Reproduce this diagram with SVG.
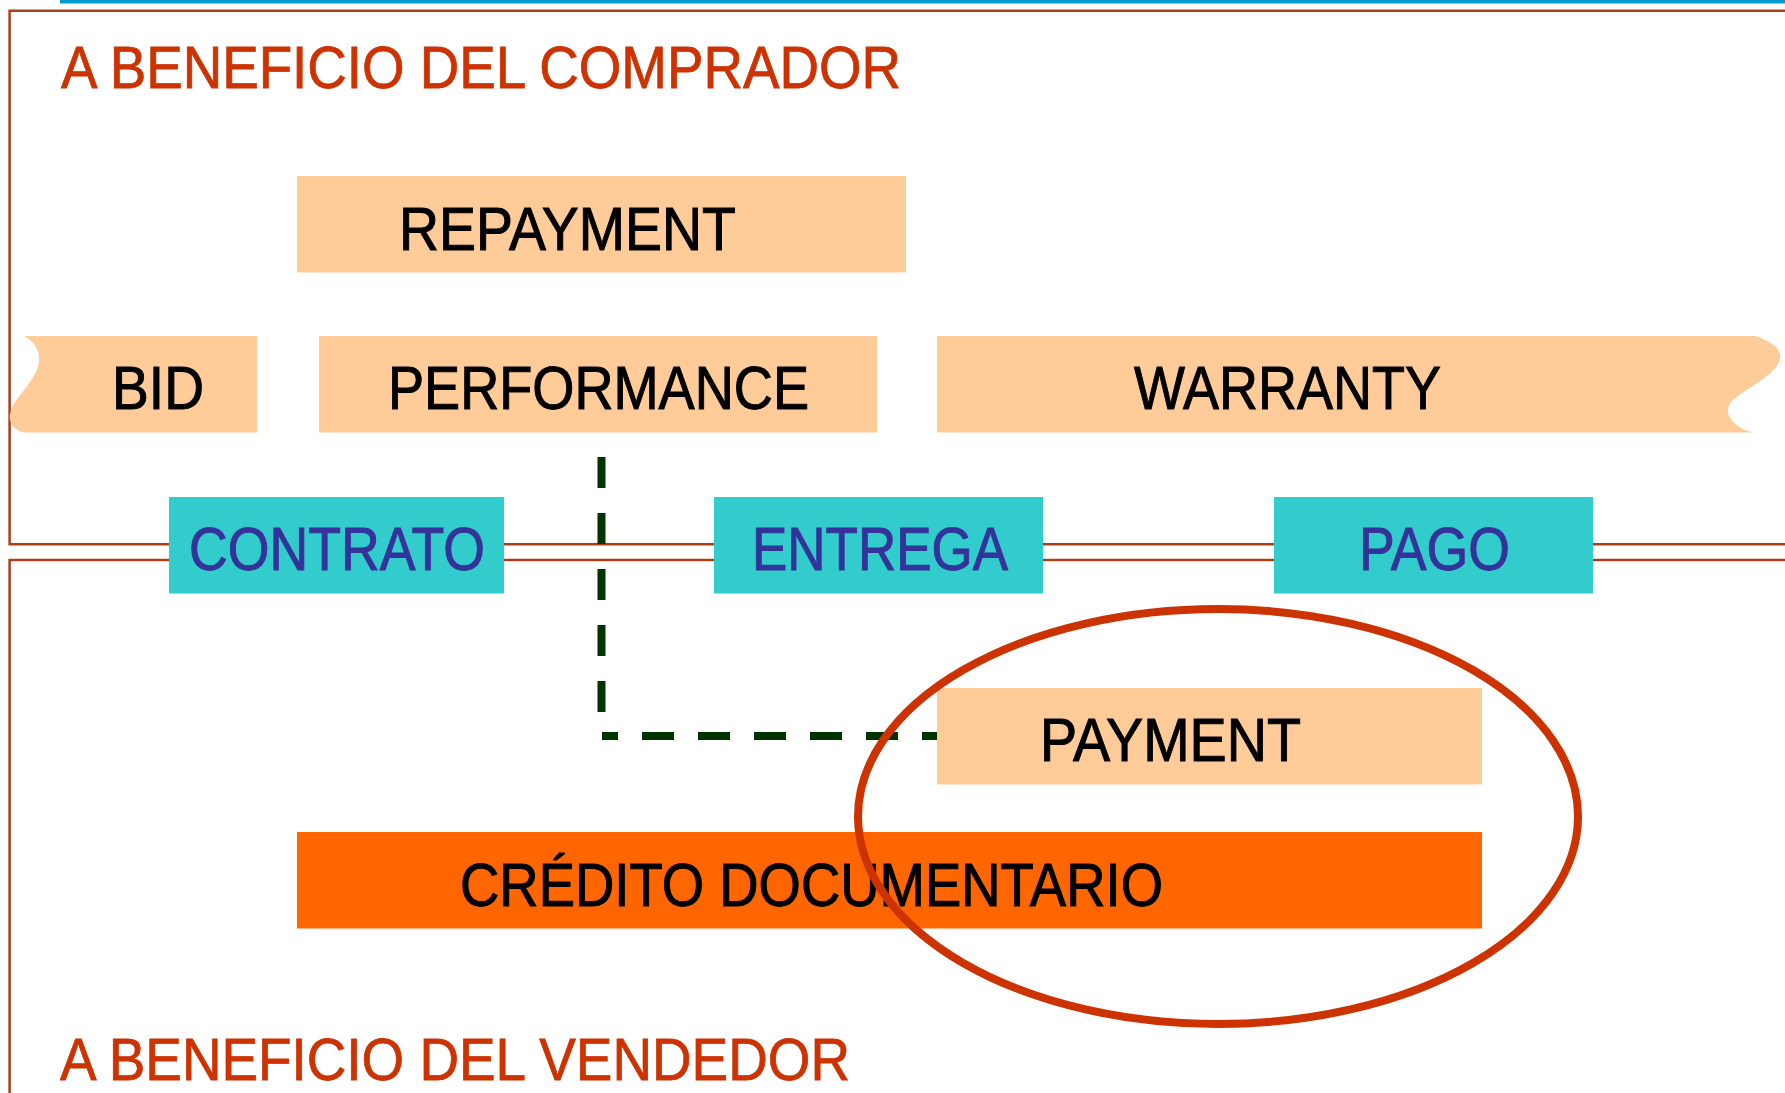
<svg xmlns="http://www.w3.org/2000/svg" width="1785" height="1093" viewBox="0 0 1785 1093">
<style>
.frame{fill:none;stroke:#A8401A;stroke-width:2.5}
.title{font-family:"Liberation Sans",Arial,sans-serif;font-size:60px;fill:#CC3300;stroke:#CC3300;stroke-width:0.8}
.peach{fill:#FFCC99}
.teal{fill:#33CCCC}
.lbl{font-family:"Liberation Sans",Arial,sans-serif;font-size:61px;fill:#000000;stroke:#000000;stroke-width:1}
.tlbl{font-family:"Liberation Sans",Arial,sans-serif;font-size:61px;fill:#333399;stroke:#333399;stroke-width:1}
.dash{fill:none;stroke:#003300;stroke-width:8;stroke-dasharray:31 25}
</style>
<rect x="0" y="0" width="1785" height="1093" fill="#FFFFFF"/>
<rect x="60" y="0" width="1725" height="3.5" fill="#0099CC"/>
<path class="frame" d="M1790,10.7 H9.6 V544.3 H1790"/>
<path class="frame" d="M1790,560 H9.6 V1100"/>
<text class="title" x="61" y="88" textLength="840" lengthAdjust="spacingAndGlyphs">A BENEFICIO DEL COMPRADOR</text>
<text class="title" x="60" y="1080" textLength="790" lengthAdjust="spacingAndGlyphs">A BENEFICIO DEL VENDEDOR</text>

<g id="repayment">
<rect class="peach" x="297" y="176" width="609" height="96.5"/>
<text class="lbl" x="399" y="249.5" textLength="337" lengthAdjust="spacingAndGlyphs">REPAYMENT</text>
</g>
<g id="bid">
<path class="peach" d="M24,336 H257 V432.5 H24 C16,431 8,424 10,414 C13,400 28,388 36,372 C42,360 40,344 24,336 Z"/>
<text class="lbl" x="112" y="409" textLength="92" lengthAdjust="spacingAndGlyphs">BID</text>
</g>
<g id="performance">
<rect class="peach" x="319" y="336" width="558" height="96.5"/>
<text class="lbl" x="388" y="409" textLength="421" lengthAdjust="spacingAndGlyphs">PERFORMANCE</text>
</g>
<g id="warranty">
<path class="peach" d="M937,336 H1755 C1772,341 1784,350 1779,362 C1772,378 1742,390 1731,402 C1722,414 1734,428 1753,432.5 H937 Z"/>
<text class="lbl" x="1134" y="409" textLength="307" lengthAdjust="spacingAndGlyphs">WARRANTY</text>
</g>
<g id="contrato">
<rect class="teal" x="169" y="497" width="335" height="96.5"/>
<text class="tlbl" x="189" y="570" textLength="296" lengthAdjust="spacingAndGlyphs">CONTRATO</text>
</g>
<g id="entrega">
<rect class="teal" x="714" y="497" width="329" height="96.5"/>
<text class="tlbl" x="752" y="570" textLength="256" lengthAdjust="spacingAndGlyphs">ENTREGA</text>
</g>
<g id="pago">
<rect class="teal" x="1274" y="497" width="319" height="96.5"/>
<text class="tlbl" x="1359" y="570" textLength="151" lengthAdjust="spacingAndGlyphs">PAGO</text>
</g>
<g id="payment">
<rect class="peach" x="937" y="688" width="545" height="96.5"/>
<text class="lbl" x="1040" y="761" textLength="261" lengthAdjust="spacingAndGlyphs">PAYMENT</text>
</g>
<g id="credito">
<rect x="297" y="832" width="1185" height="96.5" fill="#FF6600"/>
<text class="lbl" x="460" y="905.5" textLength="703" lengthAdjust="spacingAndGlyphs">CRÉDITO DOCUMENTARIO</text>
</g>

<g id="connectors">
<line class="dash" x1="601.5" y1="457" x2="601.5" y2="712"/>
<line class="dash" x1="602" y1="736" x2="937" y2="736" style="stroke-dasharray:32 24;stroke-dashoffset:16"/>
</g>

<ellipse cx="1218" cy="816.5" rx="360" ry="207.5" fill="none" stroke="#CC3300" stroke-width="8"/>
</svg>
